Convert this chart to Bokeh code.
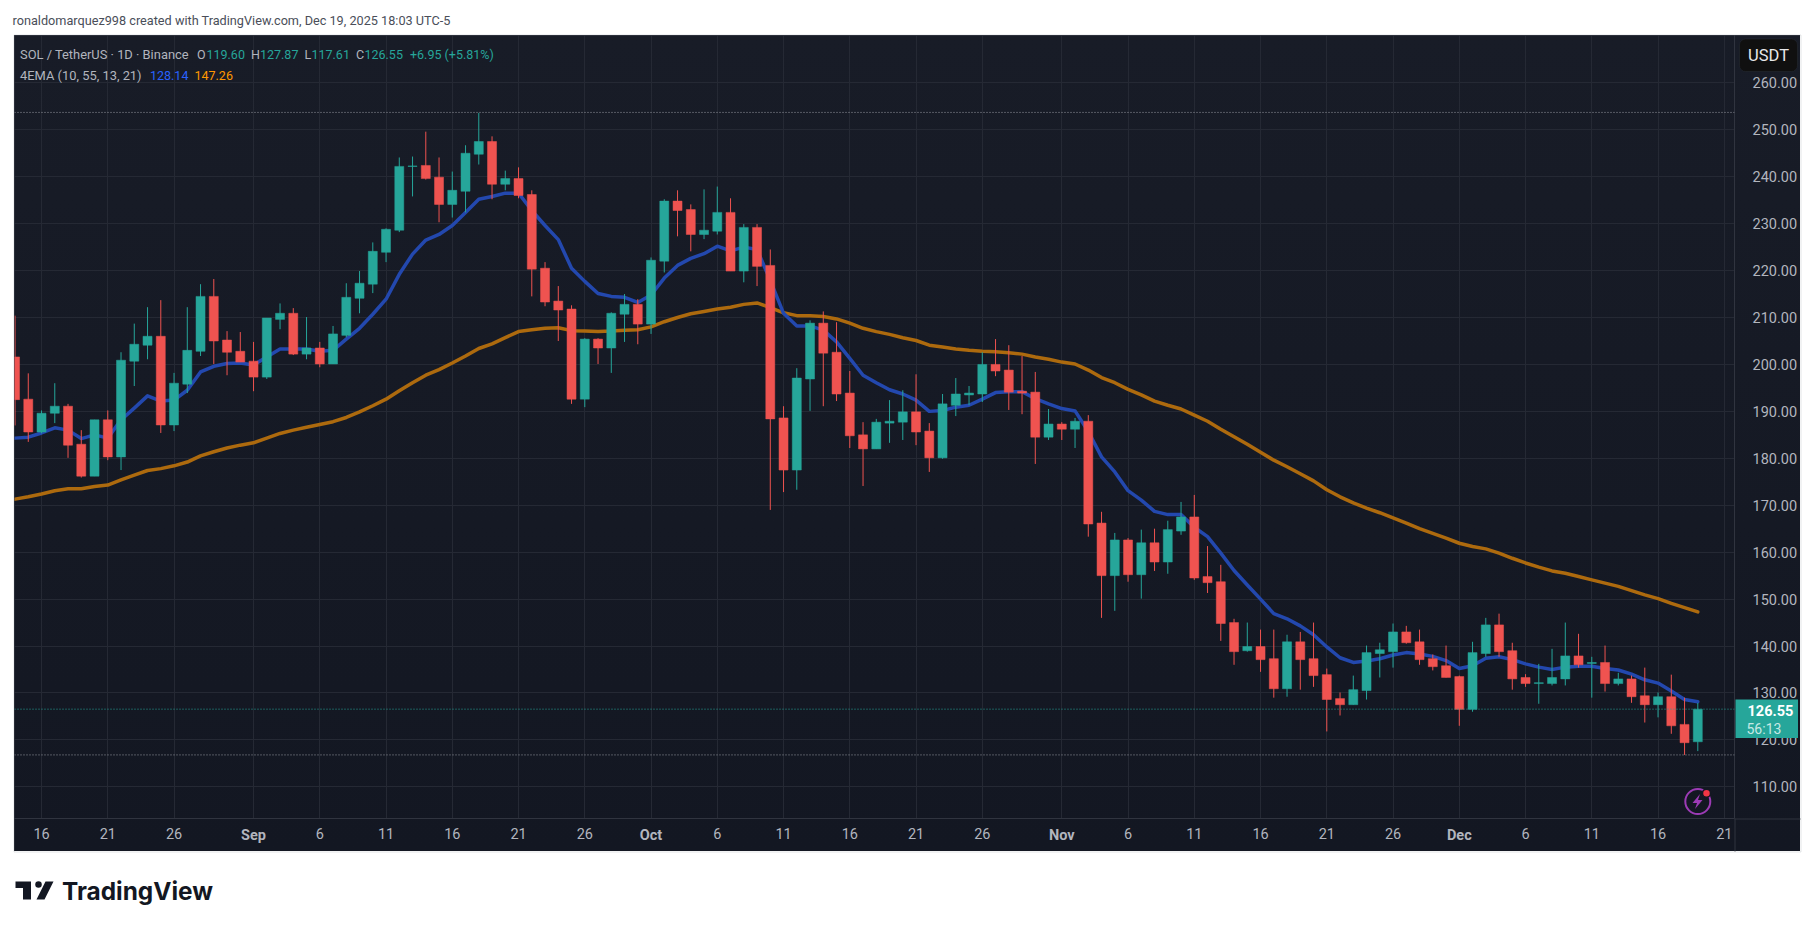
from bokeh.plotting import figure
from bokeh.layouts import column
from bokeh.models import Range1d, FixedTicker, BoxAnnotation, Label, Span, LinearAxis, NumeralTickFormatter
from bokeh.embed import file_html
from bokeh.resources import INLINE

# ---------- data (Aug 14 .. Dec 19, one candle per day) ----------
opens = [201.6,192.6,185.6,189.6,191.1,183.0,176.2,188.2,180.3,200.7,204.1,206.0,187.1,195.8,202.8,214.5,205.2,202.8,
         200.7,197.3,209.6,210.9,202.2,203.5,200.1,206.2,214.1,217.1,223.9,228.6,242.2,242.4,239.9,234.1,236.9,244.8,247.5,238.4,239.6,236.2,220.5,213.5,211.8,192.6,205.4,203.5,210.7,212.8,
         208.6,222.0,234.8,233.0,227.7,228.4,232.4,219.9,229.2,221.1,188.6,177.5,196.9,208.8,202.6,193.9,185.0,182.0,187.5,187.7,189.9,185.8,180.1,191.3,193.5,193.7,200.0,198.8,194.3,194.1,184.5,
         187.3,186.2,187.9,166.2,155.0,162.6,155.2,162.0,157.9,164.5,167.5,154.8,153.7,145.0,139.0,139.9,137.3,130.9,140.9,137.3,133.9,128.8,127.5,130.5,138.4,138.8,143.0,140.9,137.3,135.8,
         133.5,126.5,138.4,144.5,139.0,133.3,132.0,132.0,133.0,137.9,136.3,136.5,132.0,133.0,129.4,127.5,129.2,123.3,119.60]
highs = [210.4,198.1,190.2,196.0,191.6,186.0,188.2,190.2,202.6,208.7,212.2,213.7,198.2,212.2,217.1,218.2,207.1,206.9,
         204.8,209.9,213.0,212.0,210.1,204.8,208.2,217.3,219.9,226.0,229.0,244.1,244.3,249.6,244.1,241.1,246.7,253.6,248.6,241.3,242.0,237.1,221.8,216.7,212.6,205.6,205.6,211.1,215.0,213.9,
         222.8,235.2,237.1,234.1,237.3,237.9,235.4,229.9,229.9,224.5,191.1,199.2,209.4,211.3,209.0,198.6,187.7,188.4,192.4,194.5,197.9,187.5,193.7,197.1,195.4,202.6,205.4,204.1,201.8,198.4,190.5,
         187.7,188.6,189.2,168.6,164.1,163.0,164.8,165.0,166.7,170.7,172.2,161.3,157.3,145.8,145.0,143.5,143.5,142.4,143.0,145.0,135.2,130.1,133.7,140.1,140.7,144.8,144.3,143.5,138.2,140.1,
         133.7,140.9,146.0,146.9,140.7,134.0,136.2,139.4,145.0,142.6,137.7,140.1,134.3,133.7,135.4,130.1,133.9,129.0,127.87]
lows = [187.0,183.5,185.3,187.5,180.1,175.9,176.2,179.6,177.5,195.4,201.1,185.4,185.8,193.9,201.8,200.1,197.7,200.5,
        194.3,196.9,207.5,202.0,201.1,199.4,200.1,205.8,210.9,215.2,221.8,228.2,235.8,239.4,230.3,231.3,232.4,242.6,235.2,237.1,235.4,214.5,212.4,205.0,191.6,190.9,200.1,198.2,204.8,204.3,
        206.5,219.6,227.3,224.1,226.7,227.7,219.9,217.5,216.7,169.0,172.8,173.3,190.1,191.1,192.2,182.2,174.1,182.0,183.3,183.9,182.8,177.1,179.9,189.0,191.3,192.0,197.5,190.3,189.4,178.8,183.9,
        183.9,182.2,163.3,146.0,147.5,153.7,150.1,156.0,155.4,163.7,154.1,151.3,141.1,136.0,138.8,134.5,129.0,129.2,130.7,131.3,121.8,125.2,127.5,128.6,133.3,135.4,140.5,136.0,134.8,133.3,
        123.0,126.0,137.7,137.7,130.7,131.3,127.7,131.6,131.6,135.4,129.0,130.3,131.6,127.9,123.7,124.8,121.3,116.8,117.61]
closes = [192.5,185.6,189.6,191.1,182.8,176.2,188.2,180.3,200.9,204.3,206.0,187.1,196.0,203.0,214.5,205.0,202.6,200.5,
          197.3,209.9,210.9,202.2,203.5,200.1,206.5,214.3,217.3,224.1,228.8,242.2,242.3,239.6,234.1,237.1,245.0,247.5,238.4,239.6,236.0,220.3,213.3,211.6,192.6,205.4,203.5,210.9,212.8,208.6,
          222.2,234.8,232.8,227.7,228.6,232.4,219.9,229.2,220.9,188.4,177.5,197.1,208.8,202.4,193.7,184.8,182.0,187.7,187.9,189.9,185.6,180.1,191.6,193.7,193.9,200.0,198.6,194.1,193.9,184.5,187.3,
          186.2,187.9,166.0,155.0,162.6,155.2,162.0,157.9,164.8,167.5,154.5,153.5,144.8,138.8,139.9,137.1,130.9,140.9,137.1,133.7,128.6,127.5,130.7,138.6,139.2,143.0,140.7,137.1,135.6,133.3,
          126.5,138.6,144.5,138.8,133.0,132.0,132.2,133.3,137.9,136.0,136.5,132.0,133.0,129.2,127.5,129.2,123.0,119.4,126.55]
ema_fast = [184.3,184.5,185.4,186.5,186.0,184.2,185.0,184.3,188.2,190.7,193.3,192.2,192.4,194.5,198.4,199.6,200.2,200.3,
            199.9,201.6,203.3,203.3,203.3,202.8,203.0,205.4,207.7,210.7,213.9,219.2,223.5,226.5,227.7,229.6,232.4,235.2,235.8,236.5,236.5,232.8,229.6,226.6,220.5,217.7,215.1,214.5,214.3,213.2,
            214.8,218.4,221.1,222.6,223.6,225.2,224.2,225.0,224.5,217.9,210.9,208.2,208.2,207.3,204.8,201.3,197.7,196.1,194.6,193.7,192.4,190.0,190.2,190.9,191.3,192.6,194.0,194.2,194.2,192.7,191.6,
            190.6,190.1,185.7,180.3,177.1,173.1,171.1,168.7,168.0,168.0,165.3,163.3,159.8,156.1,153.0,150.0,146.9,145.8,144.3,142.4,139.8,137.5,136.5,136.8,137.3,138.1,138.6,138.3,137.8,136.9,
            135.2,135.8,137.4,137.7,137.1,136.2,135.5,135.0,135.5,135.7,135.7,135.2,134.9,134.0,132.8,132.1,130.4,128.6,128.14]
ema_slow = [171.3,171.8,172.4,173.1,173.5,173.5,174.0,174.3,175.4,176.4,177.4,177.8,178.4,179.2,180.5,181.4,182.2,182.8,
            183.3,184.3,185.3,186.0,186.6,187.2,187.8,188.7,189.9,191.2,192.6,194.4,196.1,197.7,198.9,200.3,201.8,203.4,204.4,205.7,207.0,207.4,207.7,207.8,207.2,207.1,207.0,207.1,207.3,207.4,
            208.0,209.1,210.0,210.8,211.3,211.8,212.2,212.8,213.1,212.1,211.0,210.4,210.4,210.2,209.7,208.8,207.7,207.0,206.4,205.7,205.1,204.1,203.7,203.3,203.0,202.8,202.7,202.5,202.2,201.6,201.1,
            200.5,200.1,198.8,197.2,196.1,194.7,193.5,192.2,191.3,190.5,189.2,187.9,186.2,184.6,183.0,181.3,179.6,178.2,176.7,175.2,173.3,171.8,170.5,169.4,168.4,167.3,166.2,165.0,164.0,163.0,
            161.9,161.2,160.7,159.8,158.7,157.7,156.8,156.0,155.5,154.8,154.1,153.4,152.7,151.8,150.9,150.1,149.1,148.2,147.26]
day_tick_positions = [2,7,12,23,28,33,38,43,53,58,63,68,73,84,89,94,99,104,114,119,124,129]
day_tick_labels = ["16","21","26","6","11","16","21","26","6","11","16","21","26","6","11","16","21","26","6","11","16","21"]
month_tick_positions = [18,48,79,109]
month_tick_labels = ["Sep","Oct","Nov","Dec"]
y_ticks = [110,120,130,140,150,160,170,180,190,200,210,220,230,240,250,260]
period_high = 253.7
period_low = 116.8
last_price = 126.55

# ---------- styles ----------
GREEN, RED = "#26a69a", "#ef5350"
TXT = "#b2b5be"
FONT = "Roboto"

# price pane: page x 14..1800, y 35..851, frame x 14..1734, y 35..818
p = figure(width=1786, height=816, output_backend="svg", toolbar_location=None,
           x_range=Range1d(-0.04, 129.77), y_range=Range1d(103.25, 270.09),
           x_axis_location="below", y_axis_location="right", frame_align=False,
           min_border_left=0, min_border_top=0, min_border_right=66, min_border_bottom=33,
           margin=(35, 0, 0, 14),
           styles={"background": "linear-gradient(#181c27, #131722)"})
p.border_fill_alpha = 0
p.background_fill_alpha = 0
p.outline_line_color = None

xa, ya = p.xaxis[0], p.yaxis[0]
xa.ticker = FixedTicker(ticks=day_tick_positions)
xa.major_label_overrides = dict(zip(day_tick_positions, day_tick_labels))
ya.ticker = FixedTicker(ticks=y_ticks)
ya.formatter = NumeralTickFormatter(format="0.00")
xb = LinearAxis(ticker=FixedTicker(ticks=month_tick_positions),
                major_label_overrides=dict(zip(month_tick_positions, month_tick_labels)),
                major_label_text_font_style="bold", axis_line_color=None)
p.add_layout(xb, "below")
for a in (xa, ya, xb):
    a.major_tick_line_color = None
    a.minor_tick_line_color = None
    a.major_label_text_color = TXT
    a.major_label_text_font = FONT
    a.major_label_text_font_size = "14.5px"
xa.axis_line_color = "#30343f"
ya.axis_line_color = "#30343f"
xa.major_label_standoff = 3
xb.major_label_standoff = -21
ya.major_label_standoff = 12
p.xgrid[0].ticker = FixedTicker(ticks=sorted(day_tick_positions + month_tick_positions))
for g in (p.xgrid[0], p.ygrid[0]):
    g.grid_line_color = "#252934"
    g.grid_line_width = 1

idx = list(range(len(closes)))
for loc, col in [(period_high, "#9598a1"), (period_low, "#9598a1"), (last_price, GREEN)]:
    p.add_layout(Span(location=loc, dimension="width", line_color=col, line_dash="1 2", line_width=1))

p.line(idx, ema_slow, line_color="#ad6a0e", line_width=3.5, line_join="round", line_cap="round")
p.line(idx, ema_fast, line_color="#2348ae", line_width=3.5, line_join="round", line_cap="round")

colors = [GREEN if c >= o_ else RED for o_, c in zip(opens, closes)]
p.segment(idx, highs, idx, lows, line_color=colors, line_width=1)
p.vbar(x=idx, top=[max(a, b) for a, b in zip(opens, closes)], bottom=[min(a, b) for a, b in zip(opens, closes)],
       width=0.68, fill_color=colors, line_color=colors, line_width=0.5)

# ---------- page-level overlay in page pixels: header, legend, tags, logo ----------
o = figure(width=1814, height=928, output_backend="svg", toolbar_location=None,
           x_range=Range1d(0, 1814), y_range=Range1d(928, 0), x_axis_type=None, y_axis_type=None,
           frame_align=False, min_border=0, margin=0,
           styles={"transform": "translateY(-851px)", "pointer-events": "none"})
o.border_fill_alpha = 0
o.background_fill_alpha = 0
o.outline_line_color = None
o.grid.visible = False

def label(x, y, text, color=TXT, size=12.5, align="left", style="normal", font=FONT):
    o.add_layout(Label(x=x, y=y, text=text, text_color=color, text_font_size=f"{size}px", text_align=align,
                       text_baseline="middle", text_font=font, text_font_style=style))
def box(x0, y0, x1, y1, **kw):
    o.add_layout(BoxAnnotation(left=x0, right=x1, top=y0, bottom=y1, **kw))

box(13.5, 34.5, 1800.5, 851.5, fill_alpha=0, line_color="#a3a6af", line_width=1)
o.segment([1734.5, 1734], [818, 818.5], [1734.5, 1800], [851, 818.5], line_color="#30343f", line_width=1)

label(12, 20, "ronaldomarquez998 created with TradingView.com, Dec 19, 2025 18:03 UTC-5", color="#4a4e59", size=12.7)
label(19.5, 53.5, "SOL / TetherUS · 1D · Binance", size=12.9)
for x, t, c in [(196.5, "O", TXT), (206, "119.60", GREEN),
                (250.5, "H", TXT), (259.5, "127.87", GREEN), (304, "L", TXT), (311, "117.61", GREEN),
                (355.5, "C", TXT), (364, "126.55", GREEN), (409.5, "+6.95 (+5.81%)", GREEN)]:
    label(x, 53.5, t, color=c)
label(19.5, 75, "4EMA (10, 55, 13, 21)", size=12.9)
for x, t, c in [(149.5, "128.14", "#2962ff"), (194, "147.26", "#ff9800")]:
    label(x, 75, t, color=c)

box(1739, 38.5, 1797, 71, fill_color="#101010", fill_alpha=1, line_color="#363a45", line_width=1, border_radius=6)
label(1768, 55, "USDT", color="#e8e8ea", size=16.5, align="center")

box(1735, 699, 1797.5, 737.5, fill_color=GREEN, fill_alpha=1, line_alpha=0)
label(1747, 709.5, "126.55", color="#ffffff", size=14.5, style="bold")
label(1746, 728, "56:13", color="#c6e9e5", size=14)

o.scatter([1697.3], [801], size=25, marker="circle", fill_alpha=0, line_color="#9c3bb5", line_width=2)
o.patch([1699.5, 1692, 1696.5, 1694.5, 1702, 1697.5], [793.5, 802.5, 802.5, 808.5, 799.5, 799.5],
        fill_color="#9c3bb5", line_alpha=0)
o.scatter([1706], [792.7], size=8, marker="circle", fill_color="#f23645", line_color="#131722", line_width=1.5)

LOGO = "#131722"
o.patch([15, 30.5, 30.5, 22.5, 22.5, 15], [881, 881, 899, 899, 887.5, 887.5], fill_color=LOGO, line_alpha=0)
o.patch([45, 53, 44, 36], [881, 881, 899, 899], fill_color=LOGO, line_alpha=0)
o.scatter([38], [884], size=6.5, marker="circle", fill_color=LOGO, line_alpha=0)
label(61.5, 890, "TradingView", color=LOGO, size=24.4, style="bold", font="Inter")

page = column(p, o, width=1814, height=928, styles={"overflow": "hidden"})
open("out.html", "w").write(file_html(page, INLINE))
